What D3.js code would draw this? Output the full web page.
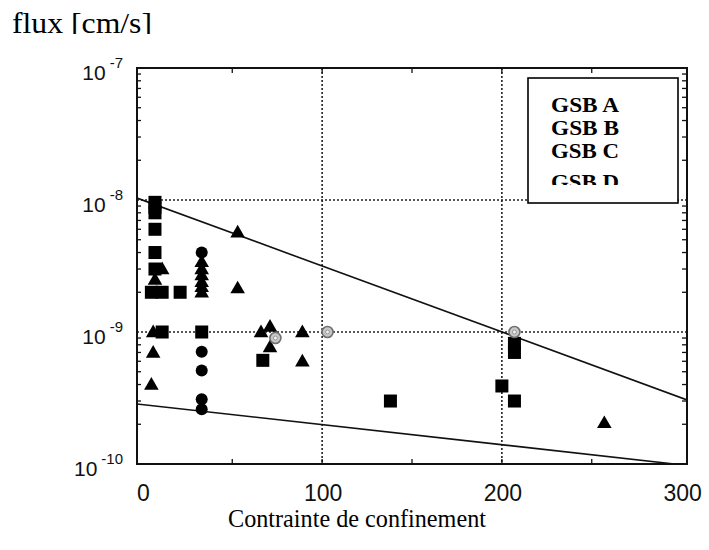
<!DOCTYPE html>
<html><head><meta charset="utf-8">
<script src="https://cdn.jsdelivr.net/npm/d3@7"></script>
<style>html,body{margin:0;padding:0;background:#fff;}svg{display:block;}</style>
</head><body>
<svg id="chart" width="709" height="550"></svg>
<script>
// ---- data ----
const xTicks = [0, 100, 200, 300];
const yTickExps = [-7, -8, -9, -10];
const legendLabels = ["GSB A", "GSB B", "GSB C", "GSB D"];
const xGrid = [100, 200];
const yGrid = [1e-8, 1e-9];

// squares
const gsbA = [[7,9.6e-9],[7,8.8e-9],[7,8e-9],[7,6e-9],[7,4e-9],[7,3e-9],[5,2e-9],[11,2e-9],[21,2e-9],
  [11,1e-9],[33,1e-9],[67,6.1e-10],[138,3e-10],[200,3.9e-10],[207,8.2e-10],[207,7e-10],[207,3e-10]];
// triangles
const gsbB = [[11,3e-9],[7,2.5e-9],[6,1e-9],[6,7e-10],[5,4e-10],
  [33,3.4e-9],[33,3e-9],[33,2.7e-9],[33,2.4e-9],[33,2.2e-9],[33,2e-9],
  [53,5.7e-9],[53,2.15e-9],[66,1e-9],[71,1.1e-9],[71,7.7e-10],[89,1e-9],[89,6e-10],[257,2.05e-10]];
// circles
const gsbC = [[33,4e-9],[33,7.1e-10],[33,5.1e-10],[33,3.1e-10],[33,2.6e-10]];
// gray markers
const gsbD = [[74,9e-10],[103,1e-9],[207,1e-9]];
// fitted bounds
const upperLine = [[-3,1.035e-8],[303,3.06e-10]];
const lowerLine = [[-3,2.85e-10],[296,1e-10]];

// ---- layout ----
const L = 137, R = 687, T = 68, B = 464;
const svg = d3.select("#chart");
const x = d3.scaleLinear().domain([-3, 303]).range([L, R]);
const y = d3.scaleLog().domain([1e-10, 1e-7]).range([B, T]);

svg.append("defs").append("clipPath").attr("id","plotclip")
  .append("rect").attr("x",L).attr("y",T).attr("width",R-L).attr("height",B-T);

// grid
const grid = svg.append("g").attr("stroke","#222").attr("stroke-width",1.6).attr("stroke-dasharray","2,2");
grid.selectAll("line.gx").data(xGrid).join("line")
  .attr("x1",d=>x(d)).attr("x2",d=>x(d)).attr("y1",T).attr("y2",B);
grid.selectAll("line.gy").data(yGrid).join("line")
  .attr("x1",L).attr("x2",R).attr("y1",d=>y(d)).attr("y2",d=>y(d));

// lines
const lineGen = d3.line().x(d=>x(d[0])).y(d=>y(d[1]));
const lines = svg.append("g").attr("clip-path","url(#plotclip)");
[upperLine, lowerLine].forEach(l=>{
  lines.append("path").attr("d",lineGen(l)).attr("fill","none").attr("stroke","#111").attr("stroke-width",1.6);
});

// axes: ticks inside
const minor = [];
for (let e=-10;e<-7;e++) for (let m=2;m<=9;m++) minor.push(m*Math.pow(10,e));
const axisG = svg.append("g").attr("stroke","#111").attr("stroke-width",1.3);
axisG.selectAll("line.yl").data(minor).join("line")
  .attr("x1",L).attr("x2",L+4).attr("y1",d=>y(d)).attr("y2",d=>y(d));
axisG.selectAll("line.yr").data(minor).join("line")
  .attr("x1",R-5).attr("x2",R).attr("y1",d=>y(d)).attr("y2",d=>y(d));
const xMinor = [50,100,150,200,250];
axisG.selectAll("line.xb").data(xMinor).join("line")
  .attr("x1",d=>x(d)).attr("x2",d=>x(d)).attr("y1",B).attr("y2",B-5);
axisG.selectAll("line.xt").data(xMinor).join("line")
  .attr("x1",d=>x(d)).attr("x2",d=>x(d)).attr("y1",T).attr("y2",T+5);

// frame
svg.append("rect").attr("x",L).attr("y",T).attr("width",R-L).attr("height",B-T)
  .attr("fill","none").attr("stroke","#111").attr("stroke-width",2);

// markers
const mk = svg.append("g").attr("fill","#000");
const sq = 13;
mk.selectAll("rect.a").data(gsbA).join("rect")
  .attr("x",d=>x(d[0])-sq/2).attr("y",d=>y(d[1])-sq/2).attr("width",sq).attr("height",sq);
const tri = d3.symbol().type(d3.symbolTriangle).size(92);
mk.selectAll("path.b").data(gsbB).join("path")
  .attr("d",tri).attr("transform",d=>`translate(${x(d[0])},${y(d[1])+1})`);
mk.selectAll("circle.c").data(gsbC).join("circle")
  .attr("cx",d=>x(d[0])).attr("cy",d=>y(d[1])).attr("r",6);
const gd = svg.append("g");
gd.selectAll("circle.d").data(gsbD).join("circle")
  .attr("cx",d=>x(d[0])).attr("cy",d=>y(d[1])).attr("r",5.5)
  .attr("fill","#c8c8c8").attr("stroke","#707070").attr("stroke-width",1.6);
gd.selectAll("circle.d2").data(gsbD).join("circle")
  .attr("cx",d=>x(d[0])).attr("cy",d=>y(d[1])).attr("r",2)
  .attr("fill","#f0f0f0").attr("stroke","#999").attr("stroke-width",1);

// tick labels
const sans = "'Liberation Sans', Arial, sans-serif";
svg.append("g").selectAll("text").data(xTicks).join("text")
  .attr("x",d=>x(d)+1).attr("y",501).attr("text-anchor","middle")
  .attr("font-family",sans).attr("font-size",23).attr("fill","#111").text(d=>d);
const yl = svg.append("g").selectAll("text").data(yTickExps).join("text")
  .attr("x",123).attr("y",d=>y(Math.pow(10,d))+12).attr("text-anchor","end")
  .attr("font-family",sans).attr("font-size",21).attr("fill","#111");
yl.append("tspan").text("10");
yl.append("tspan").attr("font-size",15).attr("dx",4).attr("dy",-12).text(d=>"-"+Math.abs(d));

// legend box
svg.append("clipPath").attr("id","legclip").append("rect")
  .attr("x",528).attr("y",78).attr("width",150).attr("height",107);
svg.append("rect").attr("x",528).attr("y",78).attr("width",150).attr("height",125)
  .attr("fill","#fff").attr("stroke","#000").attr("stroke-width",1.6);
const serif = "'Liberation Serif', 'Times New Roman', serif";
const legY = [112, 135, 158, 189];
svg.append("g").attr("clip-path","url(#legclip)").selectAll("text").data(legendLabels).join("text")
  .attr("x",551).attr("y",(d,i)=>legY[i])
  .attr("font-family",serif).attr("font-weight","bold")
  .attr("font-size",21).attr("textLength",68).attr("lengthAdjust","spacingAndGlyphs")
  .attr("fill","#000").text(d=>d);

// titles
svg.append("clipPath").attr("id","titleclip").append("rect").attr("x",0).attr("y",0).attr("width",300).attr("height",34);
svg.append("text").attr("clip-path","url(#titleclip)").attr("x",12).attr("y",33)
  .attr("font-family",serif).attr("font-size",30).attr("textLength",140).attr("lengthAdjust","spacingAndGlyphs")
  .attr("fill","#000").text("flux [cm/s]");
svg.append("text").attr("x",357).attr("y",527).attr("text-anchor","middle")
  .attr("font-family",serif).attr("font-size",26).attr("textLength",258).attr("lengthAdjust","spacingAndGlyphs")
  .attr("fill","#000").text("Contrainte de confinement");
</script>
</body></html>
